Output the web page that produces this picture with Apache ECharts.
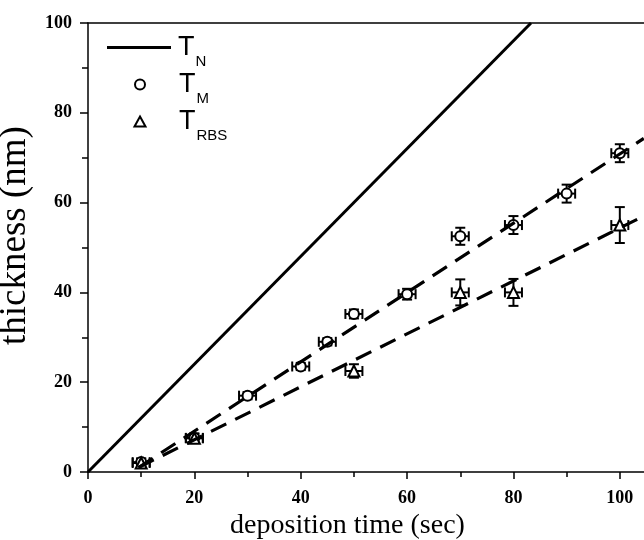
<!DOCTYPE html>
<html>
<head>
<meta charset="utf-8">
<script src="https://cdn.jsdelivr.net/npm/echarts@6/dist/echarts.min.js"></script>
<style>html,body{margin:0;padding:0;background:#fff}#c{width:644px;height:540px}</style>
</head>
<body>
<div id="c"></div>
<script>
// ---- data ----
const yTicks = [0, 20, 40, 60, 80, 100];

// T_N (nominal) line
const tnT = [0, 83.3];
const tnThick = [0, 100];

// T_M (circles)
const tmT     = [10, 20, 30, 40, 45, 50, 60, 70, 80, 90, 100];
const tmThick = [2.2, 7.6, 17, 23.5, 29, 35.2, 39.6, 52.5, 55, 62, 71];
const tmErrX  = [1.6, 1.6, 1.6, 1.6, 1.6, 1.6, 1.6, 1.6, 1.6, 1.6, 1.6];
const tmErrY  = [0.8, 1, 0.8, 0.8, 0.8, 1, 1.2, 1.9, 2, 2, 2];

// T_RBS (triangles)
const rbsT     = [10, 20, 50, 70, 80, 100];
const rbsThick = [2, 7.5, 22.5, 40, 40, 55];
const rbsErrX  = [1.6, 1.6, 1.6, 1.6, 1.6, 1.6];
const rbsErrY  = [1, 1, 1.5, 2.9, 3, 4];

// dashed fit lines (end points)
const fitMT = [9.5, 104.5];
const fitMThick = [1, 74.3];
const fitRT = [9.5, 104.5];
const fitRThick = [1, 57];

const pairs = (a, b) => a.map((v, i) => [v, b[i]]);
const errData = (x, y, ex, ey) => x.map((v, i) => [v, y[i], ex[i], ey[i]]);

function renderErr(params, api) {
  const x = api.value(0), y = api.value(1), ex = api.value(2), ey = api.value(3);
  const l = api.coord([x - ex, y]), r = api.coord([x + ex, y]);
  const t = api.coord([x, y + ey]), b = api.coord([x, y - ey]);
  const cap = 5;
  const st = { stroke: '#000', lineWidth: 2 };
  const ln = (x1, y1, x2, y2) => ({ type: 'line', shape: { x1, y1, x2, y2 }, style: st });
  return {
    type: 'group',
    children: [
      ln(l[0], l[1], r[0], r[1]),
      ln(l[0], l[1] - cap, l[0], l[1] + cap),
      ln(r[0], r[1] - cap, r[0], r[1] + cap),
      ln(t[0], t[1], b[0], b[1]),
      ln(t[0] - cap, t[1], t[0] + cap, t[1]),
      ln(b[0] - cap, b[1], b[0] + cap, b[1])
    ]
  };
}

const tickFont = { fontFamily: 'Liberation Serif', fontWeight: 'bold', fontSize: 18, color: '#000' };
const subs = { 'T_N': 'N', 'T_M': 'M', 'T_RBS': 'RBS' };
const legendRich = (padLeft) => ({
  color: '#000',
  rich: {
    a: { fontFamily: 'Liberation Sans', fontSize: 27, lineHeight: 26, padding: [12, 0, 12, padLeft], verticalAlign: 'middle', color: '#000' },
    b: { fontFamily: 'Liberation Sans', fontSize: 15, lineHeight: 15, padding: [20, 0, 0, 1], verticalAlign: 'top', color: '#000' }
  }
});

const chart = echarts.init(document.getElementById('c'), null, { renderer: 'canvas' });
chart.setOption({
  animation: false,
  backgroundColor: '#fff',
  grid: { left: 88, top: 23, right: -29, bottom: 68, containLabel: false, outerBoundsMode: 'none' },
  legend: [{
    data: [{ name: 'T_N', icon: 'rect' }],
    orient: 'vertical', left: 107, top: 22, padding: 0,
    itemWidth: 64, itemHeight: 3, itemGap: 0,
    selectedMode: false,
    formatter: n => '{a|T}{b|' + subs[n] + '}',
    textStyle: legendRich(2)
  }, {
    data: [{ name: 'T_M', icon: 'circle' }, { name: 'T_RBS', icon: 'triangle' }],
    orient: 'vertical', left: 133.5, top: 59, padding: 0,
    itemWidth: 11, itemHeight: 10, itemGap: -14,
    selectedMode: false,
    formatter: n => '{a|T}{b|' + subs[n] + '}',
    textStyle: legendRich(28.5)
  }],
  xAxis: [{
    type: 'value', min: 0, max: 110, interval: 20,
    name: 'deposition time (sec)', nameLocation: 'middle', nameGap: 37,
    nameTextStyle: { fontFamily: 'Liberation Serif', fontSize: 28, color: '#000', padding: [0, 66, 0, 0] },
    axisLine: { onZero: false, lineStyle: { color: '#000', width: 1.5 } },
    axisTick: { inside: false, length: 7, lineStyle: { color: '#000', width: 1.5 } },
    minorTick: { show: true, splitNumber: 2, length: 5, lineStyle: { color: '#000', width: 1.5 } },
    axisLabel: Object.assign({ margin: 17, showMaxLabel: false }, tickFont),
    splitLine: { show: false }
  }, {
    type: 'value', position: 'top', min: 0, max: 110,
    axisLine: { show: true, onZero: false, lineStyle: { color: '#000', width: 1.5 } },
    axisTick: { show: false }, axisLabel: { show: false }, splitLine: { show: false }
  }],
  yAxis: [{
    type: 'value', min: 0, max: 100, interval: 20,
    name: 'thickness (nm)', nameLocation: 'middle', nameGap: 35,
    nameTextStyle: { fontFamily: 'Liberation Serif', fontSize: 37, color: '#000', padding: [0, 0, 0, 24] },
    axisLine: { show: true, onZero: false, lineStyle: { color: '#000', width: 1.5 } },
    axisTick: { show: true, inside: false, length: 8, lineStyle: { color: '#000', width: 1.5 } },
    minorTick: { show: true, splitNumber: 2, length: 6, lineStyle: { color: '#000', width: 1.5 } },
    axisLabel: Object.assign({ margin: 16, customValues: yTicks }, tickFont),
    splitLine: { show: false }
  }],
  series: [
    { name: 'T_N', type: 'line', data: pairs(tnT, tnThick), symbol: 'none',
      lineStyle: { color: '#000', width: 3 }, itemStyle: { color: '#000' }, z: 3 },
    { name: 'fitM', type: 'line', data: pairs(fitMT, fitMThick), symbol: 'none',
      lineStyle: { color: '#000', width: 3.2, type: [17, 10] }, z: 4 },
    { name: 'fitR', type: 'line', data: pairs(fitRT, fitRThick), symbol: 'none',
      lineStyle: { color: '#000', width: 3.2, type: [17, 10] }, z: 4 },
    { name: 'errM', type: 'custom', renderItem: renderErr, data: errData(tmT, tmThick, tmErrX, tmErrY), z: 2 },
    { name: 'errR', type: 'custom', renderItem: renderErr, data: errData(rbsT, rbsThick, rbsErrX, rbsErrY), z: 2 },
    { name: 'T_M', type: 'scatter', data: pairs(tmT, tmThick), symbol: 'circle', symbolSize: 10,
      itemStyle: { color: '#fff', borderColor: '#000', borderWidth: 2, opacity: 1 }, z: 3 },
    { name: 'T_RBS', type: 'scatter', data: pairs(rbsT, rbsThick), symbol: 'triangle', symbolSize: 11,
      itemStyle: { color: '#fff', borderColor: '#000', borderWidth: 2, opacity: 1 }, z: 3 }
  ]
});
</script>
</body>
</html>
